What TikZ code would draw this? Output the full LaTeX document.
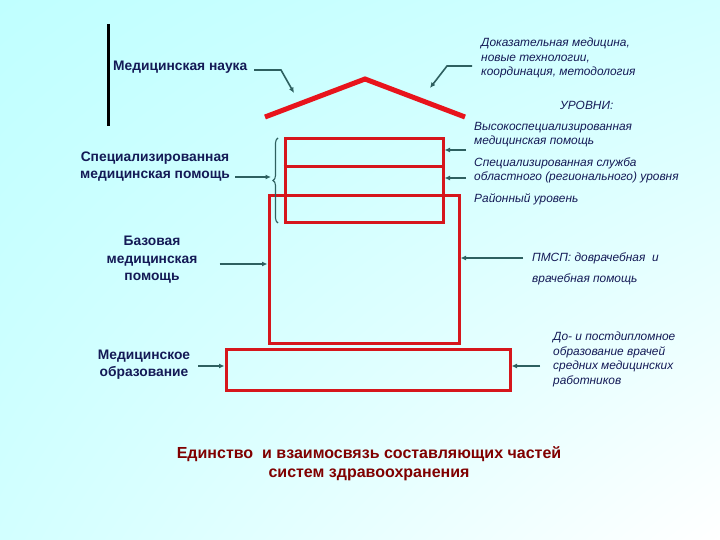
\documentclass[tikz,border=0pt]{standalone}
\usepackage{fontspec}
\setmainfont{Liberation Sans}
\usetikzlibrary{arrows.meta,decorations.pathreplacing,shadings}
\definecolor{navy}{RGB}{20,26,86}
\definecolor{conncol}{RGB}{46,96,96}
\definecolor{roofred}{RGB}{232,20,28}
\definecolor{boxred}{RGB}{214,22,28}
\definecolor{titlered}{RGB}{128,0,0}
\definecolor{bgcyan}{RGB}{192,255,255}
\definecolor{bgmid}{RGB}{210,255,255}
\tikzset{
  lbl/.style={font=\bfseries\fontsize{13.8}{17.6}\selectfont, text=navy, align=center, inner sep=0pt},
  itl/.style={font=\itshape\fontsize{11.9}{14.6}\selectfont, text=navy, align=left, anchor=west, inner sep=0pt},
  conn/.style={draw=conncol, line width=1.6pt, -{Latex[length=5.5pt,width=5pt]}},
  redbox/.style={draw=boxred, line width=3pt, inner sep=0pt},
  roof/.style={draw=roofred, line width=5pt},
}
\begin{document}
\begin{tikzpicture}[x=1pt,y=-1pt]
\useasboundingbox (0,0) rectangle (720,540);
\shade[upper left=bgcyan, upper right=bgmid, lower left=bgmid, lower right=white] (0,0) rectangle (720,540);
% black vertical bar
\draw[line width=3pt, black] (108,24) -- (108,126);
% roof
\coordinate (roofL) at (265,117);
\coordinate (roofP) at (365,79);
\coordinate (roofR) at (465,117);
\draw[roof] (roofL) -- (roofP) -- (roofR);
% boxes
\node[redbox, minimum width=190pt, minimum height=147pt] (base) at (364,269.5) {};
\node[redbox, minimum width=158pt, minimum height=84pt] (top) at (364,181) {};
\draw[boxred, line width=3pt] (top.west |- 0,167) -- (top.east |- 0,167);
\node[redbox, minimum width=284pt, minimum height=41pt] (edu) at (368,369.5) {};
% left labels
\node[lbl, anchor=west] (sci) at (113,67) {Медицинская наука};
\node[lbl] (spec) at (155,166.5) {Специализированная\\медицинская помощь};
\node[lbl] (basic) at (152,259.7) {Базовая\\медицинская\\помощь};
\node[lbl] (educ) at (144,364.8) {Медицинское\\образование};
% right labels
\node[itl] (evid) at (481,58.2) {Доказательная медицина,\\новые технологии,\\координация, методология};
\node[itl] (lev) at (560,105.6) {УРОВНИ:};
\node[itl] (high) at (474,134.5) {Высокоспециализированная\\медицинская помощь};
\node[itl] (serv) at (474,170.5) {Специализированная служба\\областного (регионального) уровня};
\node[itl] (dist) at (474,199) {Районный уровень};
\node[itl, font=\itshape\fontsize{11.9}{21}\selectfont] (pmsp) at (532,269.3) {ПМСП: доврачебная\ \ и\\врачебная помощь};
\node[itl] (post) at (553,359.5) {До- и постдипломное\\образование врачей\\средних медицинских\\работников};
% title
\node[font=\bfseries\fontsize{16}{18.7}\selectfont, text=titlered, align=center, inner sep=0pt] (title) at (369,463.4) {Единство\ \ и взаимосвязь составляющих частей\\систем здравоохранения};
% brace
\draw[conncol, line width=1.1pt, decorate, decoration={brace, amplitude=5pt}] (278,223) -- (278,138);
\coordinate (braceTip) at (271,177);
% connectors
\coordinate (sciS) at (254,70);
\coordinate (sciA) at (281,70);
\coordinate (sciB) at (294,93);
\draw[conn] (sciS) -- (sciA) -- (sciB);
\coordinate (evS) at (472,66);
\coordinate (evA) at (447,66);
\coordinate (evB) at (430,88);
\draw[conn] (evS) -- (evA) -- (evB);
\coordinate (specS) at (235,177);
\draw[conn] (specS) -- (braceTip);
\coordinate (highS) at (466,150);
\coordinate (servS) at (466,178);
\draw[conn] (highS) -- (top.east |- highS);
\draw[conn] (servS) -- (top.east |- servS);
\coordinate (basicS) at (219.5,264);
\draw[conn] (basicS) -- (base.west |- basicS);
\coordinate (pmspS) at (523,258);
\draw[conn] (pmspS) -- (base.east |- pmspS);
\coordinate (educS) at (198,366);
\coordinate (postS) at (540,366);
\draw[conn] (educS) -- (edu.west |- educS);
\draw[conn] (postS) -- (edu.east |- postS);
\end{tikzpicture}
\end{document}
